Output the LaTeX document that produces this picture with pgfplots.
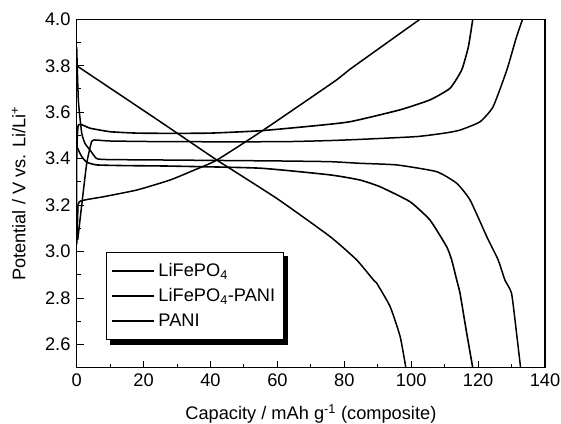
\documentclass[border=0pt]{standalone}
\usepackage{fontspec}
\setmainfont{Liberation Sans}
\usepackage{pgfplots}
\pgfplotsset{compat=1.18}

\begin{document}
{\fontsize{18.3}{22}\selectfont
\begin{tikzpicture}
\begin{axis}[
    scale only axis,
    width=468.3bp, height=348.4bp,
    xmin=0, xmax=140, ymin=2.5, ymax=4.0,
    xtick={0,20,40,60,80,100,120,140},
    minor xtick={10,30,50,70,90,110,130},
    ytick={2.6,2.8,3.0,3.2,3.4,3.6,3.8,4.0},
    minor ytick={2.5,2.7,2.9,3.1,3.3,3.5,3.7,3.9},
    tick pos=left,
    tick align=inside,
    major tick length=7bp, minor tick length=4bp,
    every tick/.style={black, line width=1bp},
    axis line style={line width=1.3bp},
    /pgf/number format/assume math mode=true,
    yticklabel style={/pgf/number format/.cd, fixed, fixed zerofill, precision=1},
    xticklabel style={/pgf/number format/.cd, fixed, precision=0},
    xlabel={Capacity / mAh g\textsuperscript{-1} (composite)},
    ylabel={Potential / V vs. Li/Li\textsuperscript{+}},
    xlabel style={at={(axis description cs:0.5,0)}, anchor=center, yshift=-46bp},
    ylabel style={at={(axis description cs:0,0.5)}, anchor=center, yshift=58bp},
    legend cell align=left,
    legend image code/.code={\draw[#1] (0bp,0bp) -- (42bp,0bp);},
    legend style={name=leg, at={(axis description cs:0.0626,0.0795)}, anchor=south west,
        draw=black, line width=0.7bp, fill=white,
        inner xsep=5bp, inner ysep=8bp, row sep=4bp,
        nodes={inner xsep=3.5bp, inner ysep=2.5bp, text height=13bp, text depth=3bp}},
    every axis plot/.append style={black, smooth, tension=0.3},
]
% LiFePO4 charge
\addplot[line width=1.6bp] coordinates {
 (0,3.05) (0,3.40) (0.5,3.545) (4,3.531) (10,3.516) (18,3.510) (27.9,3.509)
 (40,3.510) (54.8,3.520) (70,3.540) (81.7,3.559) (96.6,3.610) (105.6,3.653)
 (111.6,3.703) (115.1,3.782) (117.1,3.882) (118.4,4.0)};
\addlegendentry{LiFePO\textsubscript{4}}
% LiFePO4 discharge
\addplot[line width=1.6bp, forget plot] coordinates {
 (0,3.452) (1.5,3.409) (3,3.385) (6,3.373) (15,3.370) (27.9,3.368) (54.8,3.359)
 (75.8,3.330) (84.7,3.308) (90.7,3.279) (99.6,3.215) (105.6,3.136) (110.6,3.021)
 (112.1,2.964) (113.6,2.878) (114.6,2.820) (116.6,2.648) (118.4,2.5)};
% LiFePO4-PANI charge
\addplot[line width=1.5bp] coordinates {
 (0.3,3.05) (1.5,3.20) (3,3.38) (4.5,3.475) (6,3.480) (10,3.476) (27.9,3.473)
 (60.8,3.473) (75.8,3.478) (84.7,3.483) (101.6,3.495) (110,3.510) (114.6,3.523)
 (120.6,3.559) (124.5,3.624) (128.6,3.782) (131.5,3.925) (133.3,4.0)};
\addlegendentry{LiFePO\textsubscript{4}-PANI}
% LiFePO4-PANI discharge
\addplot[line width=1.5bp, forget plot] coordinates {
 (0,3.88) (0.5,3.65) (1.5,3.51) (2.5,3.465) (4,3.437) (6,3.400) (10,3.396)
 (27.9,3.394) (60.8,3.390) (75.8,3.387) (84.7,3.380) (95.7,3.373) (107.6,3.344)
 (113.6,3.294) (117.6,3.222) (122.6,3.064) (126,2.964) (128,2.878) (130,2.820)
 (131.5,2.648) (132.7,2.5)};
% PANI charge
\addplot[line width=1.5bp] coordinates {
 (0,3.03) (0.3,3.15) (0.8,3.215) (8,3.236) (18,3.265) (27.9,3.308) (35,3.350)
 (41.9,3.394) (55.8,3.523) (77.7,3.739) (81.7,3.785) (102.6,4.0)};
\addlegendentry{PANI}
% PANI discharge
\addplot[line width=1.5bp, forget plot] coordinates {
 (0,3.80) (25,3.559) (41.9,3.394) (59.8,3.229) (75.8,3.064) (83.7,2.964)
 (88.7,2.878) (89.7,2.864) (93.7,2.763) (96.7,2.634) (98.4,2.5)};
\end{axis}
\fill[black] ([xshift=4bp]leg.south west) rectangle ([shift={(4bp,-4.5bp)}]leg.south east);
\fill[black] (leg.south east) rectangle ([shift={(4bp,-4bp)}]leg.north east);
\pgfresetboundingbox
\path[use as bounding box] ([shift={(-76.7bp,-56.3bp)}]current axis.south west)
  rectangle ([shift={(16bp,19.3bp)}]current axis.north east);
\end{tikzpicture}}
\end{document}
